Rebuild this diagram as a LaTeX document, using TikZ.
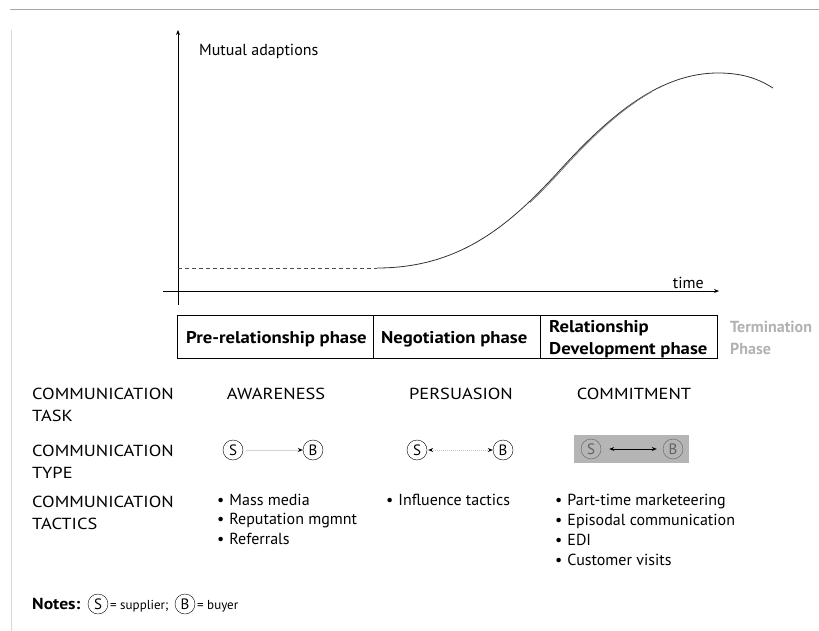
\documentclass[tikz,border=0pt]{standalone}
\usepackage{fontspec}
\setmainfont{PT Sans}
\newfontfamily\capsfont[FakeStretch=1.15]{PT Sans}
\newfontfamily\phasefont[FakeStretch=1.1]{PT Sans}
\usetikzlibrary{arrows.meta}
\begin{document}
\begin{tikzpicture}[x=1pt,y=-1pt,
  txt/.style={font=\fontsize{16}{18}\selectfont, inner sep=0pt, anchor=base west},
  caps/.style={txt, font=\capsfont\fontsize{16}{18}\selectfont},
  phase/.style={font=\phasefont\bfseries\fontsize{17}{19}\selectfont, inner sep=0pt, anchor=base west},
  term/.style={txt, font=\bfseries\fontsize{16}{18}\selectfont, text=gray!60},
  notetxt/.style={txt, font=\fontsize{13}{15}\selectfont},
  circ/.style={circle, draw, inner sep=0pt, minimum size=20pt, font=\fontsize{15}{15}\selectfont},
  axis/.style={line width=0.8pt, -{Stealth[length=5pt,width=4pt]}},
  curve/.style={line width=0.8pt, black!80}
]
\useasboundingbox (0,0) rectangle (819,631);
\fill[white] (0,0) rectangle (819,631);

% page frame
\draw[gray!70, line width=1pt] (10,10) -- (819,10);
\draw[gray!30, line width=0.8pt] (11,30) -- (11,631);

% axes
\coordinate (yb) at (178,305);
\coordinate (yt) at (178,30);
\coordinate (xl) at (163,291);
\coordinate (xr) at (719,291);
\draw[axis] (yb) -- (yt);
\draw[axis] (xl) -- (xr);
\node[txt] (ma) at (199,56) {Mutual adaptions};
\node[txt, anchor=base east] (tm) at (704,288) {time};

% adaption curve
\draw[dashed, dash pattern=on 4pt off 3pt, line width=0.8pt, black!70] (178,268) -- (377,268);
\def\adaptcurve{(377,268) .. controls (460,268) and (510,225) .. (560,170) .. controls (610,115) and (660,73) .. (718,73) .. controls (745,73) and (760,80) .. (773,88)}
\draw[curve] \adaptcurve;
\begin{scope}
  \clip (530,90) rectangle (652,205);
  \draw[curve, black!55, xshift=2.5pt, yshift=1pt] \adaptcurve;
\end{scope}

% phases
\draw[line width=0.8pt] (177,315) rectangle (717,358);
\draw[line width=0.8pt] (373,315) -- (373,358);
\draw[line width=0.8pt] (540,315) -- (540,358);
\node[phase] (p1) at (186,343) {Pre-relationship phase};
\node[phase] (p2) at (381,343) {Negotiation phase};
\node[phase] (p3a) at (549,332) {Relationship};
\node[phase] (p3b) at (549,354) {Development phase};
\node[term] (p4a) at (730,332) {Termination};
\node[term] (p4b) at (730,354) {Phase};

% communication task
\node[caps] (h1a) at (32,399) {COMMUNICATION};
\node[caps] (h1b) at (32,421) {TASK};
\node[caps, anchor=base] (t1) at (276,399) {AWARENESS};
\node[caps, anchor=base] (t2) at (461,399) {PERSUASION};
\node[caps, anchor=base] (t3) at (634,399) {COMMITMENT};

% communication type
\node[caps] (h2a) at (32,456) {COMMUNICATION};
\node[caps] (h2b) at (32,478) {TYPE};

\node[circ] (s1) at (233,450) {S};
\node[circ] (b1) at (313,450) {B};
\draw[gray!35, line width=1pt, -{Stealth[black,length=5pt,width=4pt]}, shorten <=3pt] (s1) -- (b1);

\node[circ] (s2) at (417,450) {S};
\node[circ] (b2) at (503,450) {B};
\draw[gray!45, densely dotted, line width=1pt, {Stealth[black,length=5pt,width=4pt]}-{Stealth[black,length=5pt,width=4pt]}, shorten <=1pt] (s2) -- (b2);

\fill[gray!58] (574,435) rectangle (689,463);
\node[circ, draw=black!62, text=black!62] (s3) at (591,449) {S};
\node[circ, draw=black!62, text=black!62] (b3) at (673,449) {B};
\draw[black, line width=0.8pt, {Stealth[black,length=5pt,width=4pt]}-{Stealth[black,length=5pt,width=4pt]}, shorten <=8pt, shorten >=6pt] (s3) -- (b3);

% communication tactics
\node[caps] (h3a) at (32,507) {COMMUNICATION};
\node[caps] (h3b) at (32,529) {TACTICS};

\node[txt] (a1) at (217,505) {\textbullet\hspace{5pt}Mass media};
\node[txt] (a2) at (217,524) {\textbullet\hspace{5pt}Reputation mgmnt};
\node[txt] (a3) at (217,544) {\textbullet\hspace{5pt}Referrals};

\node[txt] (n1) at (386,505) {\textbullet\hspace{5pt}Influence tactics};

\node[txt] (c1) at (555,505) {\textbullet\hspace{5pt}Part-time marketeering};
\node[txt] (c2) at (555,525) {\textbullet\hspace{5pt}Episodal communication};
\node[txt] (c3) at (555,545) {\textbullet\hspace{5pt}EDI};
\node[txt] (c4) at (555,565) {\textbullet\hspace{5pt}Customer visits};

% notes
\node[txt, font=\phasefont\bfseries\fontsize{16}{18}\selectfont] (nt) at (32,609) {Notes:};
\node[circ] (ns) at (98,604) {S};
\node[notetxt] (nsl) at (110,609) {= supplier;};
\node[circ] (nb) at (185,604) {B};
\node[notetxt] (nbl) at (197,609) {= buyer};
\end{tikzpicture}
\end{document}
